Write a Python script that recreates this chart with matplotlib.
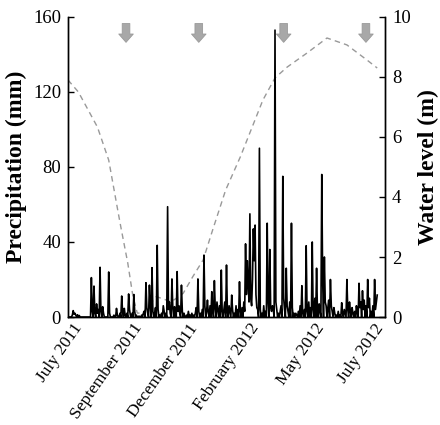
import matplotlib
matplotlib.use("Agg")
import matplotlib.pyplot as plt
import numpy as np

plt.rcParams['font.family'] = ['Liberation Serif', 'DejaVu Serif']

# Daily precipitation (day index from start of record, mm); days not listed are dry
rain_days = [5, 6, 7, 8, 9, 11, 13,
             27, 28, 30, 31, 33, 34, 35, 37, 38, 40, 41, 47, 48,
             53, 56, 57, 60, 62, 63, 65, 66, 68, 70, 71, 72, 74, 76, 77, 79, 82, 85, 87,
             88, 90, 91, 92, 94, 95, 97, 98, 100, 101, 103, 104, 106, 108, 110, 111, 113,
             115, 116, 117, 118, 120, 121, 123, 124, 126, 127, 128, 129, 131, 132, 134,
             137, 139, 141, 143, 145, 147, 148, 150, 151,
             153, 155, 157, 158, 160, 161, 162, 164, 166, 167, 169, 170, 172, 173, 175,
             177, 178, 180, 181, 183, 184, 186, 187, 189, 190, 192, 194, 196, 198, 199,
             201, 203,
             204, 205, 206, 207, 208, 209, 210, 211, 212, 213, 214, 215, 216, 217, 218,
             219, 221, 222, 224, 226, 228, 230, 231, 233, 234, 235, 236, 237, 239, 240,
             241, 243, 245, 246, 248, 249, 250, 252, 253, 254, 256, 258, 259,
             261, 263, 264, 266, 268, 270, 271, 273, 275, 276, 278, 280, 282, 283, 285,
             287, 288, 290, 291, 293, 294, 296, 297, 298, 300, 301,
             303, 304, 305, 307, 308, 310, 312, 314, 316, 317, 319, 320, 322, 323, 325,
             326, 328, 329, 331, 333, 334, 336, 337, 338, 340, 341, 342, 344, 346, 347,
             348, 350, 352, 354, 355, 356, 357]
rain_mm = [1, 3.4, 1.5, 2, 1, 1.2, 0.8,
           21, 3, 16.5, 2, 7, 2, 4, 26.5, 3, 5.5, 2, 24, 2,
           1, 4.6, 1, 2, 11.2, 3, 4.6, 1, 2, 12.3, 4, 1, 2, 12, 3, 1, 0.5, 1, 2,
           3, 18.3, 5, 2, 17, 6, 26.3, 3, 2, 5, 38.2, 4, 1, 2, 6, 3, 2,
           58.8, 4, 8, 2, 20.3, 5, 5.5, 2, 24.2, 3, 6, 2, 17, 3, 2,
           1, 3, 1, 2, 1, 2, 5, 20.3, 3,
           2, 4, 33, 6, 3, 9, 2, 6, 13.5, 4, 19.4, 5, 8, 4, 6,
           25, 3, 4, 8, 27.7, 3, 6, 3, 11.7, 4, 2, 6, 4, 18.8, 3,
           5, 8,
           3, 39, 12, 30, 18, 8, 55, 10, 6, 20, 47, 30, 49, 12, 5,
           4, 90, 4, 2, 6, 3, 50, 8, 36, 5, 3, 6, 4, 153, 8,
           4, 2, 3, 6, 75, 10, 4, 26, 6, 3, 8, 50, 5,
           2, 2, 1, 3, 6, 16.7, 2, 4, 38, 3, 8, 5, 40, 4, 10,
           26, 3, 7, 3, 76, 20, 32, 8, 6, 5, 9,
           20, 6, 3, 5, 2, 1, 3, 1, 7.6, 2, 4, 2, 20, 4, 8,
           3, 5, 2, 3, 6, 2, 18, 5, 8, 14, 4, 9, 6, 20, 5,
           10, 3, 6, 20, 4, 8, 11.7]
n_days = 358

# Water level measurements (day index, m)
wl_days = [0, 12, 34, 47, 58, 61, 69, 75, 80, 86, 102, 113, 119, 133, 144, 156,
           167, 182, 199, 225, 239, 253, 276, 299, 322, 345, 357]
wl_m = [7.9, 7.5, 6.33, 5.23, 3.47, 3.0, 1.8, 0.68, 0.13, 0.13, 0.68, 0.57, 0.5,
        0.79, 1.34, 1.9, 2.9, 4.23, 5.34, 7.23, 7.97, 8.33, 8.8, 9.3, 9.07, 8.57, 8.3]

# Sampling campaigns (arrows), day index
arrow_days = [67, 151, 249, 344]

tick_days = [17, 86, 150, 221, 296, 365]
tick_labels = ['July 2011', 'September 2011', 'December 2011', 'February 2012',
               'May 2012', 'July 2012']

precip = np.zeros(n_days)
precip[rain_days] = rain_mm
days = np.arange(n_days)

fig = plt.figure(figsize=(4.4, 4.25), dpi=100)
ax = fig.add_axes([68/440, 1-317/425, 317/440, 300/425])
ax2 = ax.twinx()

ax.plot(days, precip, color='black', lw=1.2, zorder=3)
ax2.plot(wl_days, wl_m, color='#999999', lw=1.0, ls=(0, (4, 3)), zorder=2)

ax.set_zorder(ax2.get_zorder() + 1)
ax.patch.set_visible(False)

for d in arrow_days:
    ax.annotate('', xy=(d, 145), xytext=(d, 158),
                arrowprops=dict(arrowstyle='simple,head_length=0.6,head_width=1.05,tail_width=0.55',
                                fc='#a8a8a8', ec='#9a9a9a', lw=0.6))

ax.set_xlim(0, 366)
ax.set_ylim(0, 160)
ax2.set_ylim(0, 10)
ax.set_yticks([0, 40, 80, 120, 160])
ax2.set_yticks([0, 2, 4, 6, 8, 10])
ax.set_xticks(tick_days)
ax.set_xticklabels(tick_labels, rotation=55, ha='right', va='baseline',
                   rotation_mode='anchor', fontsize=12.5)
ax.tick_params(axis='x', length=0, pad=7.5)
ax.tick_params(axis='y', direction='in', length=4, labelsize=13.5, pad=5, width=1)
ax2.tick_params(axis='y', direction='in', length=4, labelsize=13.5, pad=5, width=1)

for a in (ax, ax2):
    a.spines['top'].set_visible(False)
    for s in ('left', 'right', 'bottom'):
        a.spines[s].set_linewidth(1.0)

ax.set_ylabel('Precipitation (mm)', fontsize=17, fontweight='bold', labelpad=4)
ax2.set_ylabel('Water level (m)', fontsize=17, fontweight='bold', labelpad=5)

fig.savefig('out.png', dpi=100)
